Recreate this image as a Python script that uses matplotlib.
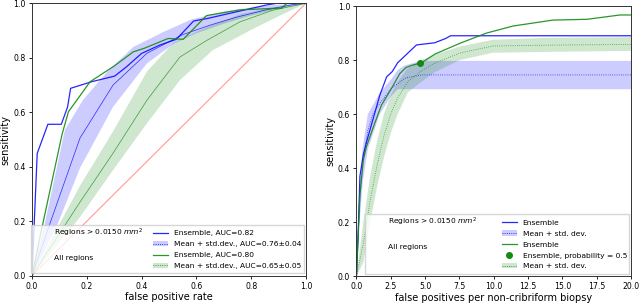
import matplotlib
matplotlib.use("Agg")
import matplotlib.pyplot as plt
from matplotlib.lines import Line2D
from matplotlib.patches import Patch

# ---- left panel: ROC ----
roc_blue_ens_x = [0, 0.019, 0.058, 0.107, 0.13, 0.141, 0.217, 0.302, 0.345, 0.40, 0.467, 0.527, 0.59, 0.643, 0.734, 0.856, 0.893, 1.0]
roc_blue_ens_y = [0, 0.449, 0.556, 0.556, 0.62, 0.688, 0.712, 0.733, 0.767, 0.816, 0.847, 0.868, 0.935, 0.945, 0.966, 0.994, 1.0, 1.0]
roc_green_ens_x = [0, 0.035, 0.11, 0.133, 0.212, 0.30, 0.37, 0.41, 0.497, 0.552, 0.60, 0.637, 0.759, 0.893, 0.911, 0.93, 1.0]
roc_green_ens_y = [0, 0.17, 0.52, 0.602, 0.712, 0.77, 0.822, 0.835, 0.871, 0.868, 0.917, 0.955, 0.976, 0.982, 0.982, 1.0, 1.0]

roc_blue_mean_x = [0, 0.066, 0.175, 0.296, 0.42, 0.55, 0.65, 0.75, 0.85, 0.95, 1.0]
roc_blue_mean_y = [0, 0.193, 0.505, 0.70, 0.817, 0.885, 0.92, 0.95, 0.975, 0.995, 1.0]
roc_blue_up_x = [0, 0.047, 0.12, 0.186, 0.274, 0.37, 0.48, 0.58, 0.7, 0.8, 0.9, 1.0]
roc_blue_up_y = [0, 0.193, 0.535, 0.645, 0.748, 0.84, 0.895, 0.94, 0.97, 0.985, 0.995, 1.0]
roc_blue_lo_x = [0, 0.095, 0.175, 0.296, 0.42, 0.515, 0.6, 0.7, 0.8, 0.9, 1.0]
roc_blue_lo_y = [0, 0.193, 0.395, 0.62, 0.78, 0.85, 0.89, 0.925, 0.955, 0.98, 1.0]

roc_green_mean_x = [0, 0.175, 0.296, 0.42, 0.54, 0.64, 0.759, 0.88, 1.0]
roc_green_mean_y = [0, 0.27, 0.45, 0.645, 0.803, 0.865, 0.932, 0.975, 1.0]
roc_green_up_x = [0, 0.175, 0.296, 0.42, 0.515, 0.638, 0.759, 0.88, 1.0]
roc_green_up_y = [0, 0.33, 0.53, 0.75, 0.854, 0.913, 0.96, 0.985, 1.0]
roc_green_lo_x = [0, 0.175, 0.296, 0.42, 0.54, 0.66, 0.82, 0.916, 1.0]
roc_green_lo_y = [0, 0.215, 0.388, 0.56, 0.718, 0.828, 0.913, 0.96, 1.0]

roc_labels = ["Ensemble, AUC=0.82", "Mean + std.dev., AUC=0.76\u00b10.04",
              "Ensemble, AUC=0.80", "Mean + std.dev., AUC=0.65\u00b10.05"]

# ---- right panel: FROC ----
froc_blue_ens_x = [0, 0.15, 0.25, 0.5, 0.75, 1.2, 1.7, 2.2, 2.6, 3.0, 4.37, 5.7, 6.5, 6.85, 20]
froc_blue_ens_y = [0, 0.2, 0.37, 0.45, 0.5, 0.58, 0.67, 0.738, 0.757, 0.79, 0.856, 0.864, 0.88, 0.89, 0.89]
froc_green_ens_x = [0, 0.25, 0.5, 0.73, 1.33, 1.82, 2.55, 3.16, 3.6, 4.0, 4.74, 5.71, 7.53, 9.48, 11.4, 14.3, 16.8, 19.2, 20]
froc_green_ens_y = [0, 0.3, 0.43, 0.48, 0.566, 0.633, 0.695, 0.75, 0.772, 0.78, 0.79, 0.822, 0.862, 0.9, 0.926, 0.948, 0.951, 0.967, 0.967]
froc_dot = (4.6, 0.788)

froc_blue_mean_x = [0, 0.2, 0.46, 0.83, 1.2, 1.7, 2.55, 3.52, 4.74, 20]
froc_blue_mean_y = [0, 0.25, 0.42, 0.54, 0.6, 0.64, 0.695, 0.733, 0.745, 0.745]
froc_blue_up_x = [0, 0.2, 0.46, 0.83, 1.7, 2.55, 3.0, 3.5, 4.7, 20]
froc_blue_up_y = [0, 0.32, 0.48, 0.6, 0.678, 0.73, 0.763, 0.78, 0.797, 0.797]
froc_blue_lo_x = [0, 0.2, 0.46, 0.83, 1.7, 2.5, 3.0, 20]
froc_blue_lo_y = [0, 0.18, 0.35, 0.47, 0.6, 0.665, 0.692, 0.692]

froc_green_mean_x = [0, 0.5, 1.0, 1.5, 2.0, 2.5, 3.0, 3.74, 4.74, 5.71, 7.53, 9.93, 13.6, 20]
froc_green_mean_y = [0, 0.12, 0.28, 0.41, 0.52, 0.6, 0.66, 0.72, 0.76, 0.789, 0.826, 0.852, 0.855, 0.858]
froc_green_up_y = [0, 0.2, 0.37, 0.5, 0.6, 0.67, 0.72, 0.77, 0.8, 0.82, 0.85, 0.875, 0.882, 0.885]
froc_green_lo_y = [0, 0.05, 0.2, 0.33, 0.44, 0.53, 0.6, 0.68, 0.72, 0.755, 0.8, 0.827, 0.83, 0.834]

froc_labels = ["Ensemble", "Mean + std. dev.", "Ensemble", "Ensemble, probability = 0.5", "Mean + std. dev."]
header_labels = ["Regions > 0.0150 $mm^2$", "All regions"]

BLUE = "#0000ff"
GREEN = "#138a13"
TICK_FS = 5.6
LABEL_FS = 7
LEG_FS = 5.4


def band(ax, ux, uy, lx, ly, color):
    # polygon: upper edge forward, lower edge back
    ax.fill(list(ux) + list(lx[::-1]), list(uy) + list(ly[::-1]),
            color=color, alpha=0.2, lw=0)


def style(ax):
    ax.tick_params(labelsize=TICK_FS, length=2.5, width=0.6, pad=2)
    for s in ax.spines.values():
        s.set_linewidth(0.7)
        s.set_color("#333333")


fig = plt.figure(figsize=(6.4, 3.03), dpi=100)
ax1 = fig.add_axes([0.05, 0.09, 0.428, 0.899])
ax2 = fig.add_axes([0.557, 0.089, 0.429, 0.891])

# left
band(ax1, roc_blue_up_x, roc_blue_up_y, roc_blue_lo_x, roc_blue_lo_y, BLUE)
band(ax1, roc_green_up_x, roc_green_up_y, roc_green_lo_x, roc_green_lo_y, GREEN)
ax1.plot([0, 1], [0, 1], color="red", alpha=0.4, lw=0.8)
ax1.plot(roc_blue_mean_x, roc_blue_mean_y, color=BLUE, lw=0.5, alpha=0.8)
ax1.plot(roc_green_mean_x, roc_green_mean_y, color=GREEN, lw=0.5, alpha=0.8)
ax1.plot(roc_blue_ens_x, roc_blue_ens_y, color=BLUE, lw=0.9, alpha=0.85)
ax1.plot(roc_green_ens_x, roc_green_ens_y, color=GREEN, lw=0.9, alpha=0.9)
ax1.set_xlim(0, 1)
ax1.set_ylim(0, 1)
ax1.set_xlabel("false positive rate", fontsize=LABEL_FS, labelpad=1)
ax1.set_ylabel("sensitivity", fontsize=LABEL_FS, labelpad=2)
style(ax1)

# right
band(ax2, froc_blue_up_x, froc_blue_up_y, froc_blue_lo_x, froc_blue_lo_y, BLUE)
band(ax2, froc_green_mean_x, froc_green_up_y, froc_green_mean_x, froc_green_lo_y, GREEN)
ax2.plot(froc_blue_mean_x, froc_blue_mean_y, color=BLUE, lw=0.6, ls=":", alpha=0.8)
ax2.plot(froc_green_mean_x, froc_green_mean_y, color=GREEN, lw=0.6, ls=":", alpha=0.8)
ax2.plot(froc_blue_ens_x, froc_blue_ens_y, color=BLUE, lw=0.9, alpha=0.85)
ax2.plot(froc_green_ens_x, froc_green_ens_y, color=GREEN, lw=0.9, alpha=0.9)
ax2.plot([froc_dot[0]], [froc_dot[1]], "o", color=GREEN, ms=4)
ax2.set_xlim(0, 20)
ax2.set_ylim(0, 1)
ax2.set_xticks([0, 2.5, 5, 7.5, 10, 12.5, 15, 17.5, 20])
ax2.set_xlabel("false positives per non-cribriform biopsy", fontsize=LABEL_FS, labelpad=1)
ax2.set_ylabel("sensitivity", fontsize=LABEL_FS, labelpad=2)
style(ax2)

# legends
blank = Line2D([], [], color="none")
ens_b = Line2D([], [], color=BLUE, lw=0.9, alpha=0.85)
ens_g = Line2D([], [], color=GREEN, lw=0.9, alpha=0.9)
mean_b = (Patch(color=BLUE, alpha=0.2, lw=0), Line2D([], [], color=BLUE, lw=0.6, ls=":"))
mean_g = (Patch(color=GREEN, alpha=0.2, lw=0), Line2D([], [], color=GREEN, lw=0.6, ls=":"))
dot_g = Line2D([], [], color=GREEN, marker="o", ls="none", ms=4)

h1 = [blank, blank, blank, blank, ens_b, mean_b, ens_g, mean_g]
l1 = [header_labels[0], "", header_labels[1], ""] + roc_labels
ax1.legend(h1, l1, ncol=2, loc="lower right", fontsize=LEG_FS, columnspacing=1.3,
           borderaxespad=0.3, borderpad=0.25, labelspacing=0.62, fancybox=False,
           framealpha=0.8, edgecolor="#cccccc")

h2 = [blank, blank, blank, blank, blank, ens_b, mean_b, ens_g, dot_g, mean_g]
l2 = [header_labels[0], "", header_labels[1], "", ""] + froc_labels
ax2.legend(h2, l2, ncol=2, loc="lower right", fontsize=LEG_FS, columnspacing=3.2,
           borderaxespad=0.3, borderpad=0.25, labelspacing=0.62, fancybox=False,
           framealpha=0.8, edgecolor="#cccccc")

fig.savefig("out.png", dpi=100)
